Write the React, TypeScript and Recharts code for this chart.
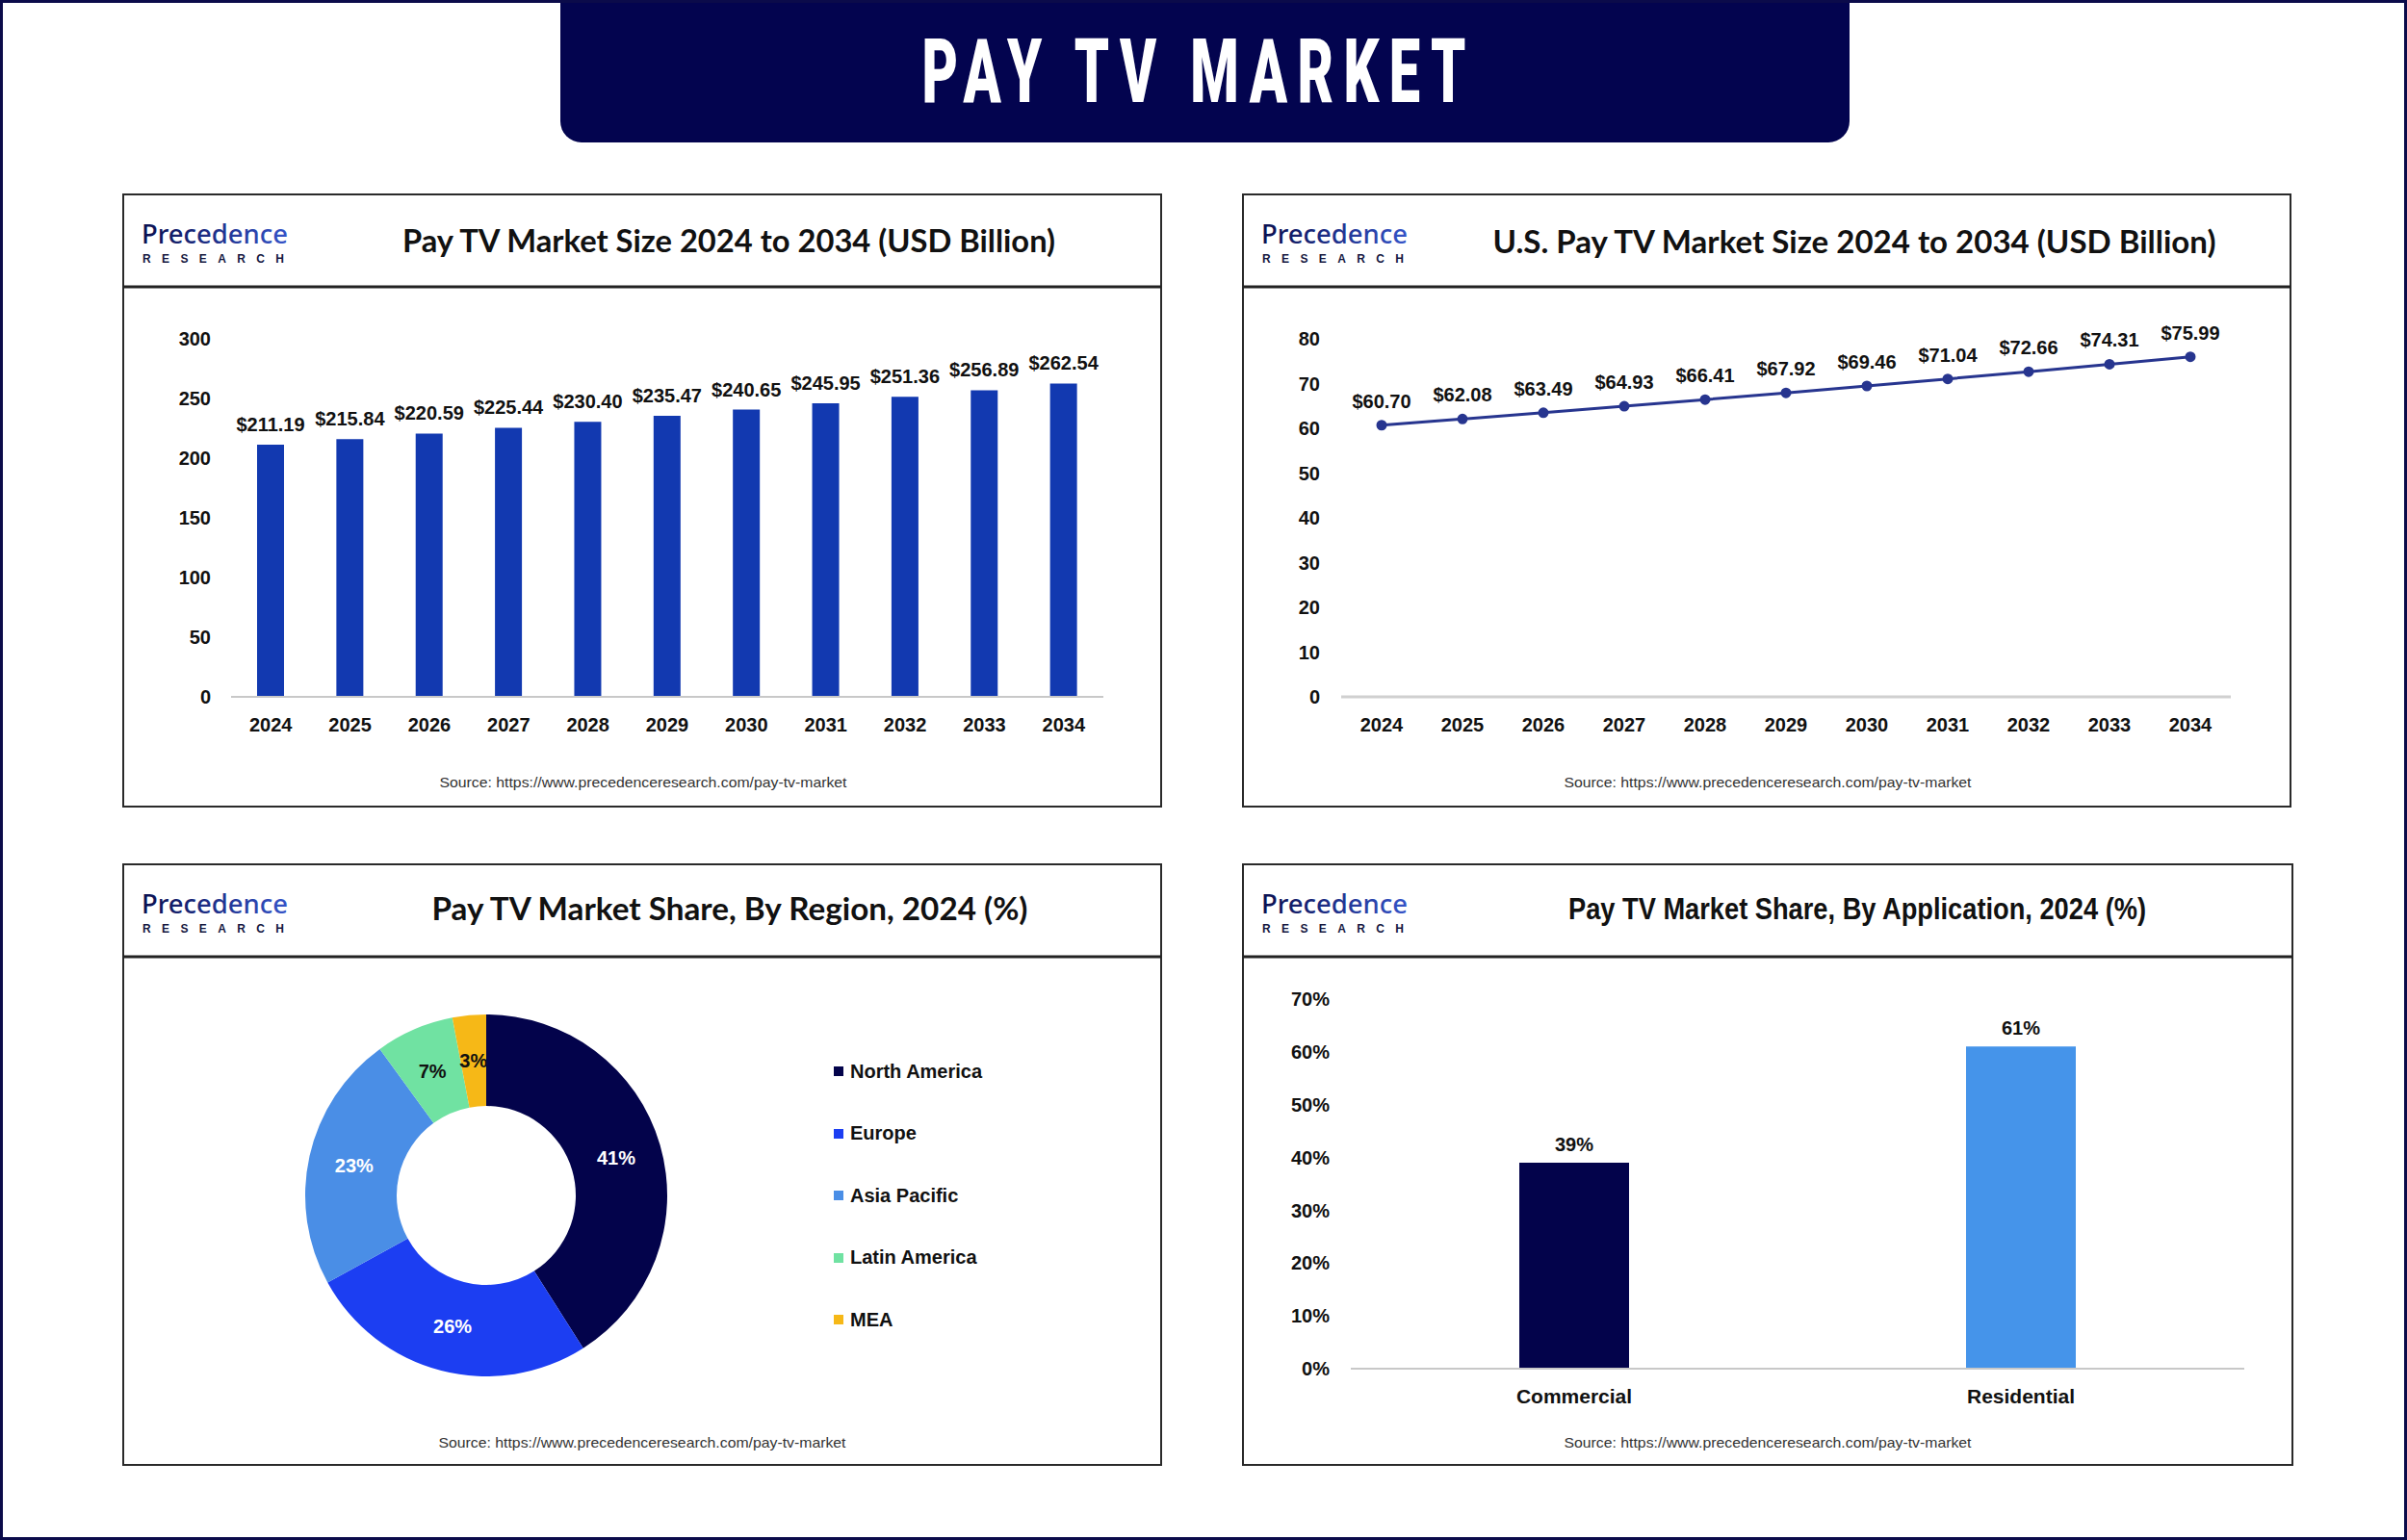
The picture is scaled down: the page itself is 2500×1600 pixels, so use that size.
import React from 'react';
import {
  BarChart,
  Bar,
  LineChart,
  Line,
  PieChart,
  Pie,
  Cell,
  XAxis,
  YAxis,
  LabelList,
  Legend,
} from 'recharts';

const years = ['2024', '2025', '2026', '2027', '2028', '2029', '2030', '2031', '2032', '2033', '2034'];
const globalSize = [211.19, 215.84, 220.59, 225.44, 230.4, 235.47, 240.65, 245.95, 251.36, 256.89, 262.54];
const usSize = [60.7, 62.08, 63.49, 64.93, 66.41, 67.92, 69.46, 71.04, 72.66, 74.31, 75.99];
const sizeTicks = [0, 50, 100, 150, 200, 250, 300];
const usTicks = [0, 10, 20, 30, 40, 50, 60, 70, 80];

const regions = ['North America', 'Europe', 'Asia Pacific', 'Latin America', 'MEA'];
const regionShare = [41, 26, 23, 7, 3];
const regionColors = ['#03034b', '#1c3ef2', '#4a8ee6', '#70e2a2', '#f6b817'];
const regionLabelColors = ['#ffffff', '#ffffff', '#ffffff', '#111111', '#111111'];

const applications = ['Commercial', 'Residential'];
const applicationShare = [39, 61];
const applicationColors = ['#03034b', '#4594ea'];
const shareTicks = [0, 10, 20, 30, 40, 50, 60, 70];

const SOURCE = 'Source: https://www.precedenceresearch.com/pay-tv-market';
const FONT = "'Liberation Sans', Arial, sans-serif";
const tickStyle = { fontSize: 20, fontWeight: 700, fill: '#111', fontFamily: FONT };
const RAD = Math.PI / 180;

const sizeData = years.map((year, i) => ({ year, value: globalSize[i] }));
const usData = years.map((year, i) => ({ year, value: usSize[i] }));
const regionData = regions.map((name, i) => ({ name, value: regionShare[i] }));
const applicationData = applications.map((name, i) => ({ name, value: applicationShare[i] }));

// panel boxes: left, top, width, height
const panels = [
  { x: 128, y: 202, w: 1078, h: 636 },
  { x: 1291, y: 202, w: 1088, h: 636 },
  { x: 128, y: 898, w: 1078, h: 624 },
  { x: 1291, y: 898, w: 1090, h: 624 },
];

const titles = [
  { text: 'Pay TV Market Size 2024 to 2034 (USD Billion)', cx: 757, y: 262, len: 678, font: 'Lato' },
  { text: 'U.S. Pay TV Market Size 2024 to 2034 (USD Billion)', cx: 1926, y: 263, len: 751, font: 'Lato' },
  { text: 'Pay TV Market Share, By Region, 2024 (%)', cx: 758, y: 956, len: 619, font: 'Lato' },
  { text: 'Pay TV Market Share, By Application, 2024 (%)', cx: 1929, y: 955, len: 600, font: FONT },
];

const sources = [
  { cx: 668, y: 818 },
  { cx: 1836, y: 818 },
  { cx: 667, y: 1504 },
  { cx: 1836, y: 1504 },
];

function Logo({ x, y }: { x: number; y: number }) {
  return (
    <g>
      <defs>
        <linearGradient id={`lg${x}${y}`} x1="0" x2="1" y1="0" y2="0">
          <stop offset="0%" stopColor="#0b0f4f" />
          <stop offset="100%" stopColor="#3554c8" />
        </linearGradient>
      </defs>
      <text
        x={x}
        y={y + 51}
        fontFamily="'Noto Sans', sans-serif"
        fontSize={27}
        fontWeight={500}
        fill={`url(#lg${x}${y})`}
        textLength={152}
        lengthAdjust="spacingAndGlyphs"
      >
        Precedence
      </text>
      <text
        x={x + 1}
        y={y + 71}
        fontFamily={FONT}
        fontSize={12}
        fontWeight={700}
        fill="#15173f"
        textLength={147}
        lengthAdjust="spacing"
      >
        RESEARCH
      </text>
    </g>
  );
}

function regionLabel(props: any) {
  const { cx, cy, midAngle, innerRadius, outerRadius, index } = props;
  const r = (innerRadius + outerRadius) / 2;
  const x = cx + r * Math.cos(-midAngle * RAD);
  const y = cy + r * Math.sin(-midAngle * RAD);
  return (
    <text
      x={x}
      y={y}
      fill={regionLabelColors[index]}
      textAnchor="middle"
      dominantBaseline="central"
      fontFamily={FONT}
      fontSize={20}
      fontWeight={700}
    >
      {regionShare[index]}%
    </text>
  );
}

function RegionLegend() {
  return (
    <div style={{ fontFamily: FONT }}>
      {regions.map((r, i) => (
        <div key={r} style={{ height: 64.5, display: 'flex', alignItems: 'center' }}>
          <span style={{ width: 10, height: 10, background: regionColors[i], marginRight: 7, display: 'inline-block' }} />
          <span style={{ fontSize: 20, fontWeight: 700, color: '#111' }}>{r}</span>
        </div>
      ))}
    </div>
  );
}

export default function App() {
  return (
    <div style={{ position: 'absolute', left: 0, top: 0, width: 2500, height: 1600, background: '#fff' }}>
      <svg width={2500} height={1600} style={{ position: 'absolute', left: 0, top: 0 }}>
        <rect x={582} y={-30} width={1339} height={178} rx={22} fill="#03044f" />
        <text
          transform="translate(1240,106) scale(0.62,1)"
          x={0}
          y={0}
          textAnchor="middle"
          fontFamily="Roboto, sans-serif"
          fontWeight={900}
          fontSize={93}
          fill="#fff"
          textLength={911}
          lengthAdjust="spacing"
        >
          PAY TV MARKET
        </text>
        {panels.map((p, i) => (
          <g key={i}>
            <rect x={p.x} y={p.y} width={p.w} height={p.h} fill="none" stroke="#2a2a2a" strokeWidth={2} />
            <line x1={p.x} x2={p.x + p.w} y1={p.y + 96} y2={p.y + 96} stroke="#222" strokeWidth={3} />
            <Logo x={p.x + 19} y={p.y} />
          </g>
        ))}
        {titles.map((t) => (
          <text
            key={t.text}
            x={t.cx}
            y={t.y}
            textAnchor="middle"
            fontFamily={t.font}
            fontWeight={700}
            fontSize={32}
            fill="#111"
            textLength={t.len}
            lengthAdjust="spacingAndGlyphs"
          >
            {t.text}
          </text>
        ))}
        {sources.map((s, i) => (
          <text
            key={i}
            x={s.cx}
            y={s.y}
            textAnchor="middle"
            fontFamily={FONT}
            fontSize={15}
            fill="#333"
            textLength={423}
            lengthAdjust="spacingAndGlyphs"
          >
            {SOURCE}
          </text>
        ))}
        <rect x={1.5} y={1.5} width={2497} height={1597} fill="none" stroke="#0b0b4a" strokeWidth={3} />
      </svg>

      {/* Global market size */}
      <div style={{ position: 'absolute', left: 128, top: 300 }}>
        <BarChart width={1078} height={538} data={sizeData} margin={{ top: 52, right: 60, bottom: 74, left: 52 }}>
          <XAxis
            dataKey="year"
            height={40}
            tickLine={false}
            axisLine={{ stroke: '#c8c8c8', strokeWidth: 2 }}
            tick={tickStyle}
            tickMargin={16}
          />
          <YAxis
            width={60}
            domain={[0, 300]}
            ticks={sizeTicks}
            tickLine={false}
            axisLine={false}
            tick={tickStyle}
            tickMargin={15}
          />
          <Bar dataKey="value" fill="#1239b0" barSize={28} isAnimationActive={false}>
            <LabelList
              dataKey="value"
              position="top"
              offset={14}
              formatter={(v: any) => `$${Number(v).toFixed(2)}`}
              style={{ fontSize: 20, fontWeight: 700, fill: '#111', fontFamily: FONT }}
            />
          </Bar>
        </BarChart>
      </div>

      {/* U.S. market size */}
      <div style={{ position: 'absolute', left: 1291, top: 300 }}>
        <LineChart width={1088} height={538} data={usData} margin={{ top: 52, right: 62, bottom: 74, left: 42 }}>
          <XAxis
            dataKey="year"
            height={40}
            padding={{ left: 42, right: 42 }}
            tickLine={false}
            axisLine={{ stroke: '#d0d0d0', strokeWidth: 3 }}
            tick={tickStyle}
            tickMargin={16}
          />
          <YAxis
            width={60}
            domain={[0, 80]}
            ticks={usTicks}
            tickLine={false}
            axisLine={false}
            tick={tickStyle}
            tickMargin={16}
          />
          <Line
            type="linear"
            dataKey="value"
            stroke="#27358f"
            strokeWidth={3}
            dot={{ r: 4, fill: '#27358f', stroke: '#27358f' }}
            isAnimationActive={false}
          >
            <LabelList
              dataKey="value"
              position="top"
              offset={18}
              formatter={(v: any) => `$${Number(v).toFixed(2)}`}
              style={{ fontSize: 20, fontWeight: 700, fill: '#111', fontFamily: FONT }}
            />
          </Line>
        </LineChart>
      </div>

      {/* Share by region */}
      <div style={{ position: 'absolute', left: 128, top: 995 }}>
        <PieChart width={1078} height={527} margin={{ top: 0, right: 0, bottom: 0, left: 0 }}>
          <Pie
            data={regionData}
            dataKey="value"
            nameKey="name"
            cx={377}
            cy={247}
            innerRadius={93}
            outerRadius={188}
            startAngle={90}
            endAngle={-270}
            stroke="none"
            label={regionLabel}
            labelLine={false}
            isAnimationActive={false}
          >
            {regionData.map((d, i) => (
              <Cell key={d.name} fill={regionColors[i]} stroke="none" />
            ))}
          </Pie>
          <Legend
            layout="vertical"
            align="right"
            verticalAlign="top"
            content={() => <RegionLegend />}
            wrapperStyle={{ left: 738, top: 86, width: 260, right: 'auto' }}
          />
        </PieChart>
      </div>

      {/* Share by application */}
      <div style={{ position: 'absolute', left: 1291, top: 995 }}>
        <BarChart width={1090} height={527} data={applicationData} margin={{ top: 43, right: 50, bottom: 60, left: 52 }}>
          <XAxis
            dataKey="name"
            height={40}
            tickLine={false}
            axisLine={{ stroke: '#c8c8c8', strokeWidth: 2 }}
            tick={{ ...tickStyle, fontSize: 21 }}
            tickMargin={15}
          />
          <YAxis
            width={60}
            domain={[0, 70]}
            ticks={shareTicks}
            tickFormatter={(v: number) => `${v}%`}
            tickLine={false}
            axisLine={false}
            tick={tickStyle}
            tickMargin={16}
          />
          <Bar dataKey="value" barSize={114} isAnimationActive={false}>
            {applicationData.map((d, i) => (
              <Cell key={d.name} fill={applicationColors[i]} />
            ))}
            <LabelList
              dataKey="value"
              position="top"
              offset={12}
              formatter={(v: any) => `${v}%`}
              style={{ fontSize: 20, fontWeight: 700, fill: '#111', fontFamily: FONT }}
            />
          </Bar>
        </BarChart>
      </div>
    </div>
  );
}
